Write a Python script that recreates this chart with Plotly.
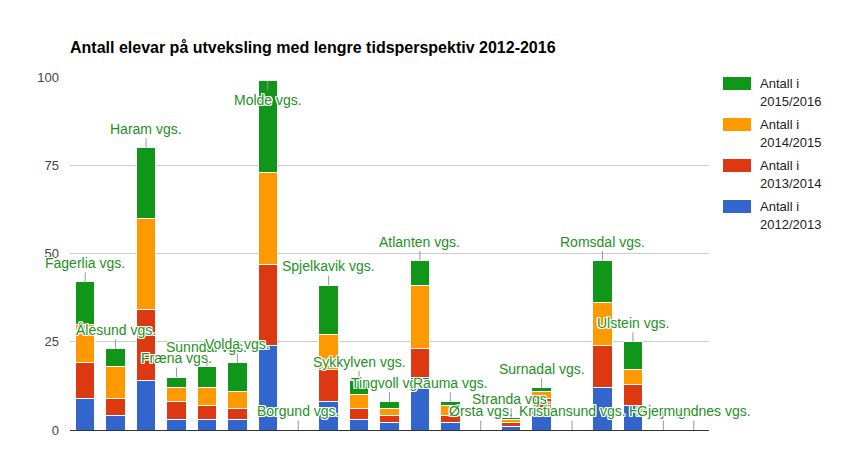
import plotly.graph_objects as go

schools = ["Fagerlia vgs.", "Ålesund vgs.", "Haram vgs.", "Fræna vgs.", "Sunndal vgs.",
           "Volda vgs.", "Molde vgs.", "Borgund vgs.", "Spjelkavik vgs.", "Sykkylven vgs.",
           "Tingvoll vgs.", "Atlanten vgs.", "Rauma vgs.", "Ørsta vgs.", "Stranda vgs.",
           "Surnadal vgs.", "Kristiansund vgs.", "Romsdal vgs.", "Ulstein vgs.", "Herøy vgs.",
           "Gjermundnes vgs."]

y2012_2013 = [9, 4, 14, 3, 3, 3, 24, 0, 8, 3, 2, 15, 2, 0, 1, 4, 0, 12, 7, 0, 0]
y2013_2014 = [10, 5, 20, 5, 4, 3, 23, 0, 9, 3, 2, 8, 2, 0, 1, 5, 0, 12, 6, 0, 0]
y2014_2015 = [11, 9, 26, 4, 5, 5, 26, 0, 10, 4, 2, 18, 3, 0, 1, 2, 0, 12, 4, 0, 0]
y2015_2016 = [12, 5, 20, 3, 6, 8, 26, 0, 14, 4, 2, 7, 1, 0, 0.5, 1, 0, 12, 8, 0, 0]

series_names = ["Antall i 2012/2013", "Antall i 2013/2014", "Antall i 2014/2015", "Antall i 2015/2016"]
series_vals = [y2012_2013, y2013_2014, y2014_2015, y2015_2016]
series_colors = ["#3366cc", "#dc3912", "#ff9900", "#109618"]

# figure sits at an 8px body offset inside the page
W, H = 836, 450
L, R, T, B = 62, 135, 69, 28
PW, PH = W - L - R, H - T - B

fig = go.Figure()
for name, vals, col in zip(series_names, series_vals, series_colors):
    fig.add_trace(go.Bar(x=schools, y=vals, name=name,
                         marker=dict(color=col, line=dict(color="white", width=1)),
                         hoverinfo="skip", showlegend=False))

totals = [a + b + c + d for a, b, c, d in zip(*series_vals)]
halo = ("1px 1px 0 #fff, -1px -1px 0 #fff, 1px -1px 0 #fff, -1px 1px 0 #fff, "
        "0 1px 0 #fff, 0 -1px 0 #fff, 1px 0 0 #fff, -1px 0 0 #fff")
for s, t in zip(schools, totals):
    off = 19 if t > 95 else -19
    fig.add_annotation(x=s, y=t, text=s, showarrow=True, arrowhead=0, arrowwidth=1,
                       arrowcolor="#999999", ax=0, ay=off,
                       font=dict(family="Liberation Sans, Arial", size=14, color="#239123", shadow=halo))

# legend drawn manually (wide swatches, two-line labels), top item = last series
def px_x(fx):
    return (fx - L) / PW

def px_y(fy):
    return (H - B - fy) / PH

for i, (name, col) in enumerate(zip(reversed(series_names), reversed(series_colors))):
    top = 69 + 41 * i
    fig.add_shape(type="rect", xref="paper", yref="paper",
                  x0=px_x(715), x1=px_x(743), y0=px_y(top), y1=px_y(top + 13),
                  fillcolor=col, line=dict(width=0))
    first, second = name.split(" 20", 1)
    for txt, cy in ((first, top + 6.5), ("20" + second, top + 24.5)):
        fig.add_annotation(xref="paper", yref="paper", x=px_x(750), y=px_y(cy), text=txt,
                           showarrow=False, xanchor="left", yanchor="middle",
                           font=dict(family="Liberation Sans, Arial", size=13, color="#222222"))

fig.update_layout(
    width=W, height=H,
    margin=dict(l=L, r=R, t=T, b=B),
    paper_bgcolor="white", plot_bgcolor="white",
    barmode="stack", bargap=0.365,
    title=dict(text="<b>Antall elevar på utveksling med lengre tidsperspektiv 2012-2016</b>",
               x=62 / W, xanchor="left", y=1 - 39 / H, yanchor="middle",
               font=dict(family="Liberation Sans, Arial", size=16, color="#000000")),
    font=dict(family="Liberation Sans, Arial", size=13, color="#222222"),
    xaxis=dict(type="category", range=[-0.5, len(schools) - 0.5], autorange=False,
               showticklabels=False, showgrid=False, showline=True, linecolor="#333333",
               linewidth=1, ticks="", fixedrange=True),
    yaxis=dict(range=[0, 100], autorange=False, tickvals=[0, 25, 50, 75, 100], showgrid=True,
               gridcolor="#cccccc", zeroline=False, showline=False, ticks="", ticklabelstandoff=10,
               tickfont=dict(color="#444444", size=13), fixedrange=True),
    showlegend=False,
)

fig.write_html("out.html")
